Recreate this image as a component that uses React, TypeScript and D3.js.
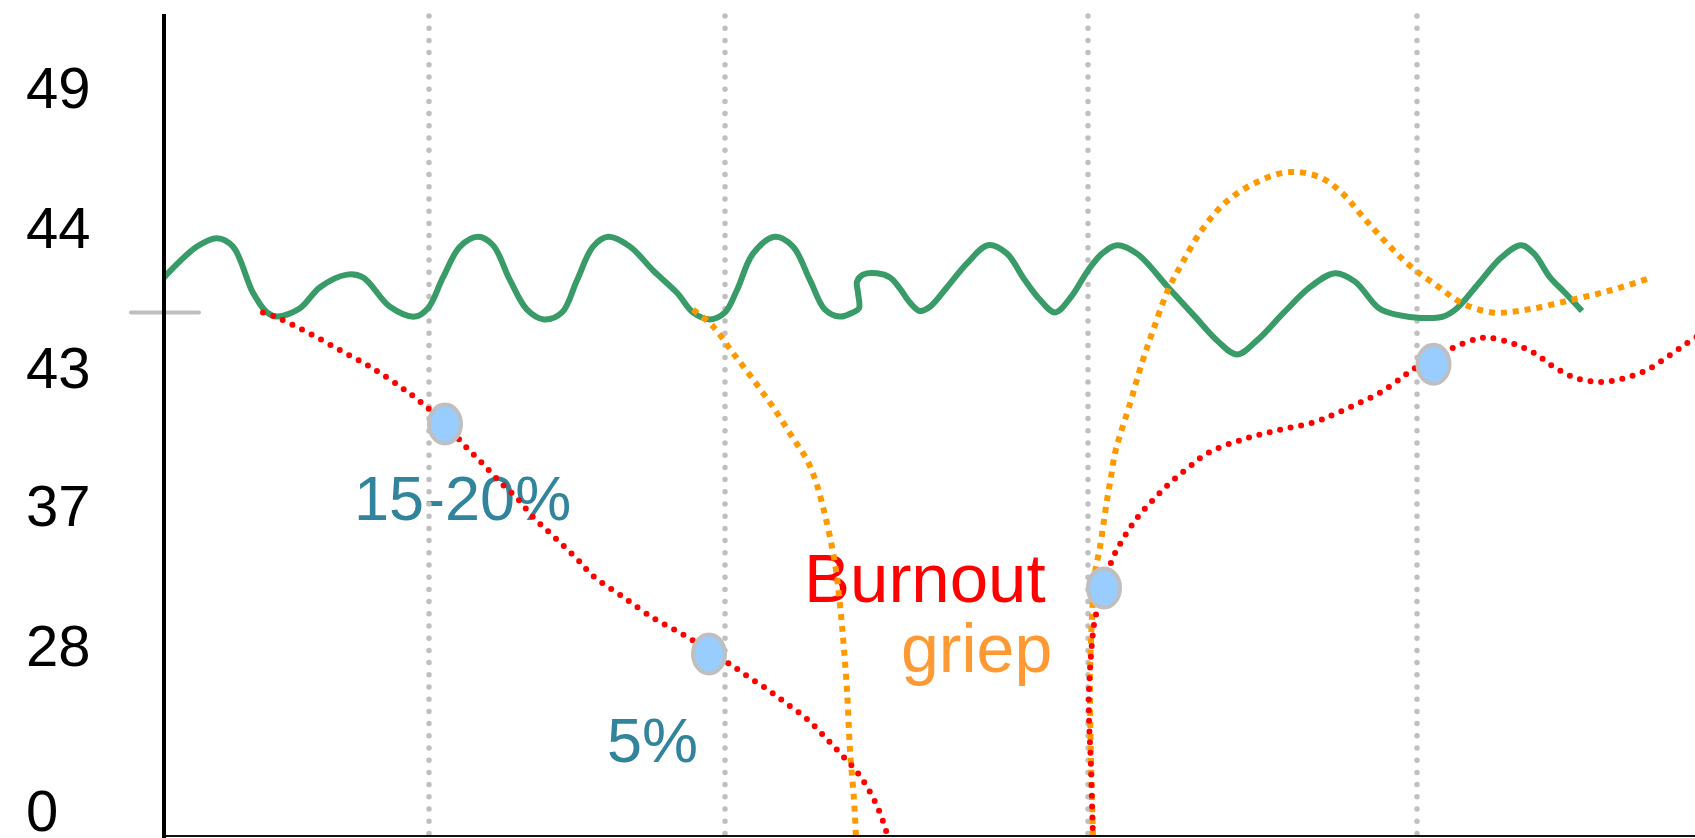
import React from "react";
import * as d3 from "d3";

type P = [number, number];

// y axis: tick values (non-linear spacing in the original)
const yTickValues = [0, 28, 37, 43, 44, 49];
const yTickLabels = ["0", "28", "37", "43", "44", "49"];

// vertical reference lines (x in weeks)
const gridX = [26.5, 56.1, 92.4, 125.3];
const refTickValue = 43.39;

// healthy baseline (green)
const greenSeries: P[] = [
  [0, 43.64], [3.3, 43.86], [5.3, 43.92], [6.9, 43.86], [8.9, 43.53], [10.3, 43.39],
  [11.3, 43.36], [13.6, 43.42], [15.6, 43.57], [18.3, 43.66], [19.9, 43.64], [22.6, 43.43],
  [25.1, 43.36], [26.4, 43.42], [27.9, 43.64], [29.6, 43.86], [31.4, 43.93], [32.9, 43.87],
  [34.6, 43.62], [36.3, 43.41], [38.0, 43.34], [39.8, 43.39], [41.3, 43.62], [42.9, 43.86],
  [44.4, 43.93], [46.6, 43.86], [48.9, 43.69], [51.3, 43.53], [52.9, 43.39], [54.6, 43.34],
  [56.1, 43.39], [57.3, 43.55], [58.9, 43.81], [61.1, 43.93], [62.9, 43.86], [64.6, 43.62],
  [66.1, 43.41], [67.6, 43.36], [68.9, 43.39], [69.5, 43.42], [69.4, 43.53], [69.3, 43.61],
  [69.9, 43.66], [71.3, 43.67], [72.6, 43.64], [73.6, 43.56], [74.6, 43.46], [75.6, 43.40],
  [76.6, 43.43], [78.3, 43.57], [80.3, 43.74], [82.4, 43.87], [84.3, 43.81], [85.9, 43.64],
  [87.6, 43.48], [89.1, 43.39], [90.7, 43.50], [92.4, 43.69], [93.8, 43.81], [95.3, 43.87],
  [97.3, 43.81], [100.4, 43.57], [103.1, 43.36], [105.3, 43.19], [107.3, 43.09], [109.3, 43.19],
  [112.0, 43.39], [114.6, 43.57], [117.1, 43.67], [119.1, 43.61], [121.5, 43.42], [123.5, 43.37],
  [125.7, 43.35], [127.9, 43.36], [129.3, 43.42], [131.5, 43.60], [133.7, 43.78], [135.7, 43.87],
  [137.0, 43.81], [138.6, 43.64], [140.1, 43.53], [141.8, 43.40],
];

// burnout path (red) falling
const redFall: P[] = [
  [9.9, 43.39], [11.1, 43.36], [12.3, 43.32], [14.3, 43.25], [17.6, 43.12], [20.8, 42.96],
  [23.8, 42.09], [25.8, 41.43], [28.1, 40.52], [30.1, 39.57], [31.8, 38.83], [33.6, 38.0],
  [35.3, 37.30], [36.9, 36.23], [38.6, 35.20], [41.3, 33.53], [42.9, 32.44], [45.9, 31.09],
  [48.9, 29.74], [51.1, 28.97], [53.1, 28.20], [54.5, 26.6], [56.4, 24.95], [58.3, 22.74],
  [60.3, 20.53], [62.3, 17.99], [64.3, 15.44], [65.9, 12.73], [67.6, 9.67], [69.3, 6.45],
  [70.6, 3.05], [71.6, -0.51], [72.4, -4.58], [73.1, -8.48],
];

// burnout recovery (red)
const redRise: P[] = [
  [93.0, -8.48], [92.9, -4.58], [92.7, 7.30], [92.5, 15.78], [92.5, 20.36], [92.8, 28.13],
  [93.1, 29.67], [94.0, 31.67], [94.8, 33.47], [95.9, 34.81], [97.3, 36.16], [98.9, 37.22],
  [100.6, 37.96], [102.4, 38.61], [104.4, 39.26], [108.0, 39.87], [111.5, 40.26], [115.1, 40.61],
  [117.3, 41.0], [119.5, 41.43], [121.7, 41.91], [123.7, 42.52], [124.8, 42.87], [126.9, 43.06],
  [129.0, 43.14], [131.2, 43.20], [132.5, 43.21], [134.8, 43.17], [137.0, 43.10], [139.0, 43.0],
  [141.2, 42.52], [143.7, 42.35], [146.1, 42.52], [148.3, 42.87], [150.3, 43.07], [152.3, 43.17],
  [153.6, 43.23],
];

// flu path (orange) falling
const orangeFall: P[] = [
  [52.9, 43.41], [54.9, 43.29], [56.9, 43.10], [59.1, 42.35], [61.1, 41.13], [62.9, 39.91],
  [64.3, 38.96], [65.2, 38.0], [65.9, 36.87], [66.6, 34.94], [67.2, 32.82], [67.6, 30.57],
  [67.9, 28.52], [68.3, 20.36], [68.6, 10.18], [69.0, 1.70], [69.2, -4.58], [69.3, -8.48],
];

// flu recovery with overshoot (orange)
const orangeRise: P[] = [
  [93.0, -8.48], [92.9, -4.58], [92.7, 8.49], [92.6, 21.55], [92.8, 29.80], [93.1, 32.63],
  [93.6, 34.30], [94.3, 37.22], [94.7, 38.22], [95.1, 39.26], [95.6, 40.04], [96.5, 41.26],
  [97.8, 43.03], [98.9, 43.26], [100.4, 43.55], [101.8, 43.74], [103.8, 43.98], [106.2, 44.89],
  [109.1, 45.57], [112.4, 45.96], [115.5, 45.79], [117.7, 45.25], [119.9, 44.36], [122.2, 43.89],
  [124.8, 43.71], [127.5, 43.57], [129.7, 43.46], [132.8, 43.39], [136.3, 43.41], [140.8, 43.48],
  [144.8, 43.55], [148.8, 43.64],
];

// markers
const markerX = [28.1, 54.5, 94.0, 126.95];
const markerV = [40.52, 26.47, 31.67, 43.02];

// annotations
const labelTexts = ["15-20%", "5%", "Burnout", "griep"];
const labelX = [19.0, 44.3, 64.0, 73.7];
const labelV = [36.04, 8.15, 30.77, 23.42];
const labelColors = ["#31849B", "#31849B", "#FF0000", "#FF9933"];
const labelSizes = [63, 63, 69, 68];

const W = 1695;
const H = 838;

export default function App() {
  const x = d3.scaleLinear().domain([0, 153.1]).range([164, 1695]);
  const y = d3
    .scaleLinear()
    .domain(yTickValues)
    .range([810, 645, 505, 367, 227, 87]);

  const line = d3
    .line<P>()
    .x((d) => x(d[0]))
    .y((d) => y(d[1]))
    .curve(d3.curveCatmullRom.alpha(0.5));

  const font = "'Liberation Sans', Arial, sans-serif";
  const axisX = x(0);
  const bottom = 836;

  return (
    <svg
      width={W}
      height={H}
      style={{ position: "absolute", left: 0, top: 0, background: "#fff" }}
    >
      <defs>
        <clipPath id="plot">
          <rect x={axisX} y={0} width={W - axisX} height={bottom} />
        </clipPath>
      </defs>
      <rect x={0} y={0} width={W} height={H} fill="#fff" />

      {/* y tick labels */}
      {yTickValues.map((v, i) => (
        <text
          key={"yl" + i}
          x={26}
          y={y(v) + 21}
          fontFamily={font}
          fontSize={58}
          fill="#000"
        >
          {yTickLabels[i]}
        </text>
      ))}

      {/* annotations */}
      {labelTexts.map((t, i) => (
        <text
          key={"lab" + i}
          x={x(labelX[i])}
          y={y(labelV[i])}
          fontFamily={font}
          fontSize={labelSizes[i]}
          fill={labelColors[i]}
        >
          {t}
        </text>
      ))}

      {/* vertical dotted gridlines */}
      {gridX.map((g, i) => (
        <line
          key={"g" + i}
          x1={x(g)}
          x2={x(g)}
          y1={16}
          y2={bottom}
          stroke="#C0C0C0"
          strokeWidth={5.5}
          strokeLinecap="round"
          strokeDasharray="0 12.2"
        />
      ))}

      {/* reference tick on axis */}
      <line
        x1={axisX - 33}
        x2={axisX + 35}
        y1={y(refTickValue)}
        y2={y(refTickValue)}
        stroke="#BFBFBF"
        strokeWidth={4}
        strokeLinecap="round"
      />

      <g clipPath="url(#plot)">
        <path
          d={line(greenSeries) || ""}
          fill="none"
          stroke="#389B68"
          strokeWidth={6}
          strokeLinejoin="round"
        />
        <path
          d={line(orangeFall) || ""}
          fill="none"
          stroke="#FF9900"
          strokeWidth={6}
          strokeDasharray="6 6"
        />
        <path
          d={line(orangeRise) || ""}
          fill="none"
          stroke="#FF9900"
          strokeWidth={6}
          strokeDasharray="6 6"
        />
        <path
          d={line(redFall) || ""}
          fill="none"
          stroke="#FF0000"
          strokeWidth={6}
          strokeLinecap="round"
          strokeDasharray="0 10.7"
        />
        <path
          d={line(redRise) || ""}
          fill="none"
          stroke="#FF0000"
          strokeWidth={6}
          strokeLinecap="round"
          strokeDasharray="0 10.7"
        />
      </g>

      {/* markers */}
      {markerX.map((mx, i) => (
        <ellipse
          key={"m" + i}
          cx={x(mx)}
          cy={y(markerV[i])}
          rx={16}
          ry={19.5}
          fill="#99CCFF"
          stroke="#BFBFBF"
          strokeWidth={4}
        />
      ))}

      {/* axes */}
      <line x1={axisX} x2={W} y1={bottom} y2={bottom} stroke="#111" strokeWidth={2} />
      <line x1={axisX} x2={axisX} y1={14} y2={H} stroke="#000" strokeWidth={4} />
    </svg>
  );
}
